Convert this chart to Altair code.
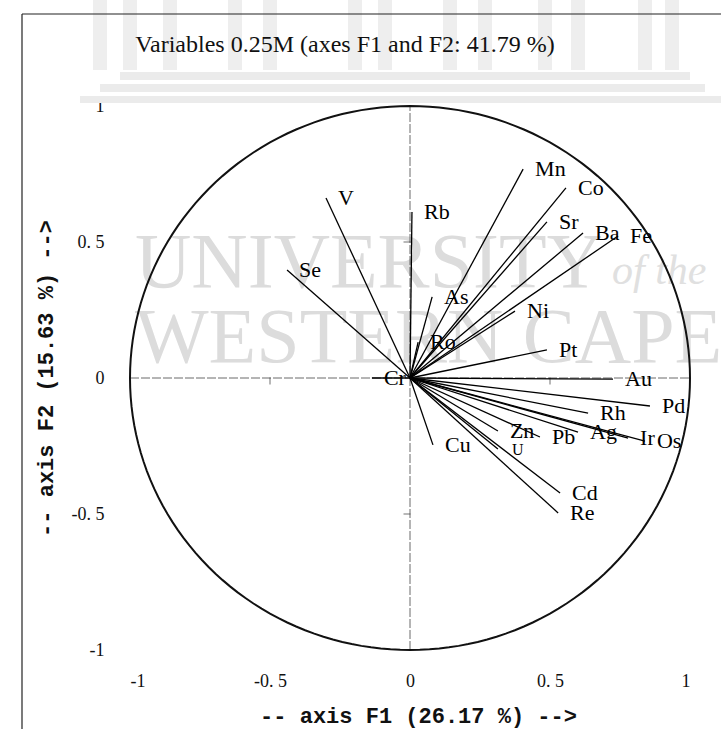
import altair as alt
import pandas as pd

# Correlation circle: loadings of each variable on factors F1 and F2
variables = ["Mn", "Co", "Sr", "Ba", "Fe", "Rb", "V", "Se", "As", "Ni", "Ro", "Pt", "Cr",
             "Au", "Pd", "Rh", "Ir", "Os", "Ag", "Pb", "Zn", "U", "Cu", "Cd", "Re"]
f1 = [0.404, 0.557, 0.489, 0.618, 0.743, 0.007, -0.300, -0.439, 0.079, 0.375, 0.029, 0.489, -0.136,
      0.725, 0.857, 0.636, 0.779, 0.839, 0.600, 0.464, 0.314, 0.314, 0.082, 0.536, 0.529]
f2 = [0.768, 0.699, 0.574, 0.533, 0.522, 0.610, 0.662, 0.397, 0.298, 0.246, 0.132, 0.103, 0.000,
      -0.004, -0.103, -0.129, -0.221, -0.232, -0.199, -0.217, -0.195, -0.261, -0.246, -0.423, -0.496]

tick_values = [-1, -0.5, 0, 0.5, 1]

title_text = "Variables 0.25M (axes F1 and F2: 41.79 %)"
x_title = "-- axis F1 (26.17 %) -->"
y_title = "-- axis F2 (15.63 %) -->"

df = pd.DataFrame({"var": variables, "F1": f1, "F2": f2})

W, H = 560, 544
SERIF = "Liberation Serif"
MONO = "Liberation Mono"

label_expr = ("replace(datum.value < 0 ? '-' + format(-datum.value, '~g') : "
              "format(datum.value, '~g'), '.', '. ')")

xs = alt.Scale(domain=[-1, 1], nice=False, zero=False)
ys = alt.Scale(domain=[-1, 1], nice=False, zero=False)

x_axis = alt.Axis(values=tick_values, ticks=False, domain=False, grid=False,
                  labelFont=SERIF, labelFontSize=18, labelColor="#111", labelPadding=22,
                  labelExpr=label_expr,
                  title=x_title, titleFont=MONO, titleFontSize=22, titleFontWeight="bold",
                  titleColor="#111", titleX=288, titleY=65, titleBaseline="middle",
                  titleAlign="center")
y_axis = alt.Axis(values=tick_values, ticks=False, domain=False, grid=False,
                  labelFont=SERIF, labelFontSize=18, labelColor="#111", labelPadding=26,
                  labelExpr=label_expr,
                  title=y_title, titleFont=MONO, titleFontSize=22, titleFontWeight="bold",
                  titleColor="#111", titleX=-85, titleY=272, titleBaseline="middle",
                  titleAlign="center", titleAngle=270)

one = pd.DataFrame({"k": [0]})

# faint letterhead behind the chart: columns, steps and lettering
decor = []
for cx in [100, 130, 170, 235, 270, 355, 385, 450, 485, 545, 578, 645, 672]:
    decor.append(alt.Chart(one).mark_rect(color="#eeeeee").encode(
        x=alt.value(cx - 130 - 7), x2=alt.value(cx - 130 + 7),
        y=alt.value(-106), y2=alt.value(-36)))
for (x0, x1, y0, y1) in [(120, 690, 72, 80), (100, 705, 84, 92), (80, 721, 96, 103)]:
    decor.append(alt.Chart(one).mark_rect(color="#ebebeb").encode(
        x=alt.value(x0 - 130), x2=alt.value(x1 - 130),
        y=alt.value(y0 - 106), y2=alt.value(y1 - 106)))

WM = "#dcdcdc"
decor.append(alt.Chart(one).mark_text(text="UNIVERSITY", font=SERIF, fontSize=78, color=WM,
                                      align="left", baseline="alphabetic").encode(
    x=alt.value(5), y=alt.value(181)))
decor.append(alt.Chart(one).mark_text(text="of the", font=SERIF, fontSize=42, fontStyle="italic",
                                      color="#e0e0e0", align="left", baseline="alphabetic").encode(
    x=alt.value(482), y=alt.value(178)))
decor.append(alt.Chart(one).mark_text(text="WESTERN CAPE", font=SERIF, fontSize=78, color=WM,
                                      align="left", baseline="alphabetic").encode(
    x=alt.value(5), y=alt.value(256)))

# outer frame (left and top edges)
frame_left = alt.Chart(one).mark_rule(color="#222", strokeWidth=1.2).encode(
    x=alt.value(-108), y=alt.value(-92), y2=alt.value(623))
frame_top = alt.Chart(one).mark_rule(color="#222", strokeWidth=1.2).encode(
    x=alt.value(-108), x2=alt.value(591), y=alt.value(-92))

# chart heading
heading = alt.Chart(one).mark_text(text=title_text, font=SERIF, fontSize=24, color="#111",
                                   align="center", baseline="middle").encode(
    x=alt.value(215), y=alt.value(-61))

# zero axes through the origin
zero = pd.DataFrame({"a": [-1], "b": [1], "z": [0]})
h_axis = alt.Chart(zero).mark_rule(color="#444", strokeWidth=0.8, strokeDash=[9, 2]).encode(
    x=alt.X("a:Q", scale=xs, axis=x_axis), x2="b:Q", y=alt.Y("z:Q", scale=ys, axis=y_axis))
v_axis = alt.Chart(zero).mark_rule(color="#444", strokeWidth=0.8, strokeDash=[9, 2]).encode(
    x=alt.X("z:Q", scale=xs), y=alt.Y("a:Q", scale=ys), y2="b:Q")

halves = pd.DataFrame({"h": [-0.5, 0.5], "z": [0, 0]})
y_ticks = alt.Chart(halves).mark_tick(orient="horizontal", size=7, xOffset=-3,
                                      color="#333", thickness=1).encode(
    x=alt.X("z:Q", scale=xs), y=alt.Y("h:Q", scale=ys))
x_ticks = alt.Chart(halves).mark_tick(orient="vertical", size=7, yOffset=3,
                                      color="#333", thickness=1).encode(
    x=alt.X("h:Q", scale=xs), y=alt.Y("z:Q", scale=ys))

# unit circle
circle = alt.Chart(alt.sequence(0, 362, 2, as_="deg")).transform_calculate(
    cx="cos(datum.deg * PI / 180)", cy="sin(datum.deg * PI / 180)"
).mark_line(color="#111", strokeWidth=2).encode(
    x=alt.X("cx:Q", scale=xs), y=alt.Y("cy:Q", scale=ys), order="deg:Q")

# variable vectors and their labels
vectors = alt.Chart(df).mark_rule(color="#000", strokeWidth=1.3).encode(
    x=alt.X("F1:Q", scale=xs), y=alt.Y("F2:Q", scale=ys),
    x2=alt.datum(0), y2=alt.datum(0))

labels = alt.Chart(df).transform_filter("datum.var != 'U'").mark_text(
    align="left", baseline="middle", dx=12, font=SERIF, fontSize=22, color="#000").encode(
    x=alt.X("F1:Q", scale=xs), y=alt.Y("F2:Q", scale=ys), text="var:N")
labels_small = alt.Chart(df).transform_filter("datum.var == 'U'").mark_text(
    align="left", baseline="middle", dx=14, dy=1, font=SERIF, fontSize=16, color="#000").encode(
    x=alt.X("F1:Q", scale=xs), y=alt.Y("F2:Q", scale=ys), text="var:N")

chart = alt.layer(
    *decor, frame_left, frame_top, heading, h_axis, v_axis, y_ticks, x_ticks,
    circle, vectors, labels, labels_small
).properties(
    width=W, height=H,
    padding={"left": 130, "top": 106, "right": 31, "bottom": 79},
    autosize="none",
    background="white",
).configure_view(strokeWidth=0)

chart.save("out.html", embed_options={"renderer": "svg", "actions": False})
